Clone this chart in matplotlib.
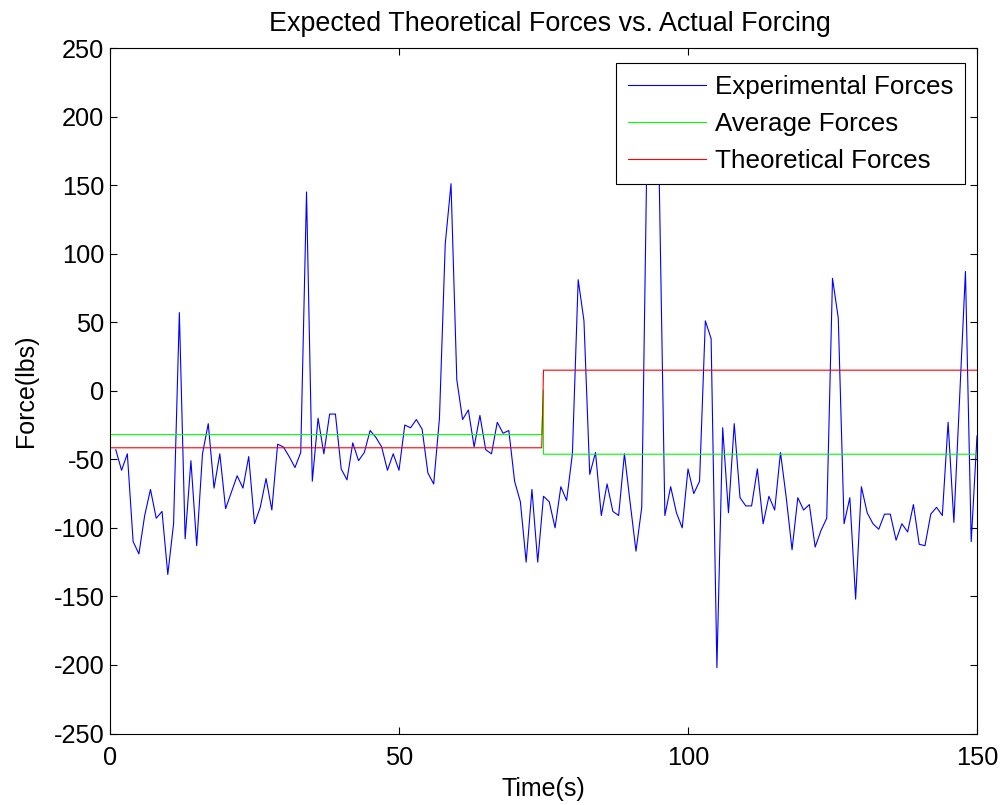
import matplotlib
matplotlib.use("Agg")
import matplotlib.pyplot as plt
import numpy as np

plt.rcParams['font.family'] = ['Liberation Sans', 'DejaVu Sans']
plt.rcParams['axes.unicode_minus'] = False

# ---- data ----
time_s = np.arange(1, 151)
experimental = [
    -43, -58, -46, -110, -119, -91, -72, -93, -88, -134,
    -97, 57, -108, -51, -113, -46, -24, -71, -46, -86,
    -74, -62, -71, -48, -97, -85, -64, -87, -39, -41,
    -48, -56, -45, 145, -66, -20, -46, -17, -17, -57,
    -65, -38, -51, -45, -29, -34, -41, -58, -46, -58,
    -25, -27, -21, -28, -60, -68, -20, 107, 151, 8,
    -21, -14, -41, -18, -43, -46, -23, -31, -29, -66,
    -81, -125, -72, -125, -77, -81, -100, -70, -80, -46,
    81, 51, -61, -45, -91, -68, -88, -91, -46, -82,
    -117, -85, 205, 230, 160, -91, -70, -89, -100, -57,
    -75, -66, 51, 38, -202, -27, -89, -24, -78, -84,
    -84, -57, -97, -77, -87, -45, -78, -116, -78, -87,
    -83, -114, -102, -93, 82, 53, -97, -78, -152, -70,
    -89, -97, -101, -90, -90, -109, -97, -103, -83, -112,
    -113, -90, -85, -91, -23, -96, -5, 87, -110, -33,
]
avg_t = [0, 74.7, 75.0, 75.0, 150]
avg_forces = [-32, -32, 0.5, -46.3, -46.3]
theo_t = [0, 74.7, 75.0, 150]
theo_forces = [-41.6, -41.6, 15, 15]

title = "Expected Theoretical Forces vs. Actual Forcing"
labels = ["Experimental Forces", "Average Forces", "Theoretical Forces"]
xticks = [0, 50, 100, 150]
yticks = list(range(-250, 251, 50))

# ---- figure ----
fig = plt.figure(figsize=(10.03, 8.05), dpi=100)
ax = fig.add_axes([110/1003, 1-733.5/805, 867/1003, 685.5/805])

ax.plot(time_s, experimental, color=(0, 0, 1), lw=0.8, label=labels[0])
ax.plot(avg_t, avg_forces, color=(0, 1, 0), lw=0.8, label=labels[1])
ax.plot(theo_t, theo_forces, color=(1, 0, 0), lw=0.8, label=labels[2])

ax.set_xlim(0, 150)
ax.set_ylim(-250, 250)
ax.set_xticks(xticks)
ax.set_yticks(yticks)
ax.tick_params(direction='in', length=5, width=0.8, top=True, right=True,
               labelsize=18.3)
ax.tick_params(axis='x', pad=9)
ax.tick_params(axis='y', pad=4)
for s in ax.spines.values():
    s.set_linewidth(0.8)

ax.set_title(title, fontsize=19.4, pad=12, x=0.5075)
ax.set_xlabel("Time(s)", fontsize=18, labelpad=5)
ax.set_ylabel("Force(lbs)", fontsize=18, labelpad=11)

leg = ax.legend(loc='upper right', bbox_to_anchor=(0.986, 0.978), borderaxespad=0,
                fontsize=18.7, frameon=True, fancybox=False, framealpha=1,
                edgecolor='black', handlelength=3.0, handletextpad=0.35,
                labelspacing=0.5, borderpad=0.45)
leg.get_frame().set_linewidth(0.8)
leg.set_zorder(10)

fig.savefig("out.png", dpi=100)
